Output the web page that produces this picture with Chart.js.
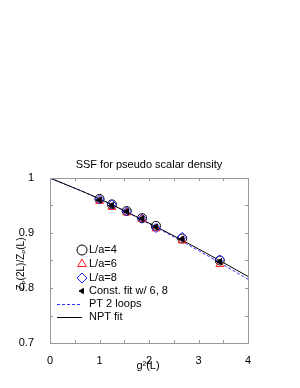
<!DOCTYPE html>
<html>
<head>
<meta charset="utf-8">
<script src="https://cdn.jsdelivr.net/npm/chart.js@4"></script>
<style>
  html, body { margin: 0; padding: 0; background: #fff; }
  canvas { display: block; }
</style>
</head>
<body>
<canvas id="myChart" width="300" height="388"></canvas>
<script>
// data
const g2 = [1.0, 1.25, 1.55, 1.86, 2.14, 2.67, 3.43];
const la4 = [0.962, 0.952, 0.940, 0.927, 0.913, 0.890, 0.850];
const la6 = [0.958, 0.947, 0.937, 0.925, 0.908, 0.886, 0.843];
const la8 = [0.961, 0.952, 0.939, 0.926, 0.909, 0.893, 0.852];
const constFit = [0.960, 0.950, 0.939, 0.926, 0.911, 0.889, 0.848];

const lineX = [0, 1, 2, 3, 4];
const pt2loops = [1.0, 0.962, 0.917, 0.868, 0.816];
const nptFit = [1.0, 0.962, 0.918, 0.871, 0.821];

const xTicks = [0, 1, 2, 3, 4];
const yTicks = [0.7, 0.8, 0.9, 1];

const FONT = 'Liberation Sans, Arial, sans-serif';

function pts(xs, ys) {
  return xs.map((x, i) => ({ x: x, y: ys[i] }));
}

const data = {
  datasets: [
    {
      label: 'PT 2 loops',
      type: 'line',
      data: pts(lineX, pt2loops),
      borderColor: '#3030ff',
      borderWidth: 1,
      borderDash: [3, 2],
      pointRadius: 0,
      tension: 0.4,
      order: 5,
    },
    {
      label: 'NPT fit',
      type: 'line',
      data: pts(lineX, nptFit),
      borderColor: '#000',
      borderWidth: 1,
      pointRadius: 0,
      tension: 0.4,
      order: 4,
    },
    {
      label: 'L/a=4',
      data: pts(g2, la4),
      pointStyle: 'circle',
      pointRadius: 4.5,
      borderColor: '#000',
      backgroundColor: 'rgba(0,0,0,0)',
      borderWidth: 1,
      order: 3,
    },
    {
      label: 'L/a=6',
      data: pts(g2, la6),
      pointStyle: 'triangle',
      pointRadius: 4.5,
      borderColor: '#ff2020',
      backgroundColor: 'rgba(0,0,0,0)',
      borderWidth: 1,
      order: 2,
    },
    {
      label: 'L/a=8',
      data: pts(g2, la8),
      pointStyle: 'rectRot',
      pointRadius: 4.5,
      borderColor: '#2020ff',
      backgroundColor: 'rgba(0,0,0,0)',
      borderWidth: 1,
      order: 1,
    },
    {
      label: 'Const. fit w/ 6, 8',
      data: pts(g2, constFit),
      pointStyle: 'triangle',
      rotation: -90,
      pointRadius: 3.5,
      borderColor: '#000',
      backgroundColor: '#000',
      borderWidth: 1,
      order: 0,
    },
  ],
};

// inward ticks, frame, title, axis titles, legend
const decor = {
  id: 'decor',
  afterDraw(chart) {
    const ctx = chart.ctx;
    const a = chart.chartArea;
    const xs = chart.scales.x;
    const ys = chart.scales.y;
    ctx.save();
    ctx.strokeStyle = '#999';
    ctx.lineWidth = 1;
    ctx.strokeRect(a.left + 0.5, a.top + 0.5, a.right - a.left, a.bottom - a.top);
    ctx.beginPath();
    for (let v = 0; v <= 4.001; v += 0.5) {
      const px = Math.round(xs.getPixelForValue(v)) + 0.5;
      ctx.moveTo(px, a.bottom); ctx.lineTo(px, a.bottom - 3);
      ctx.moveTo(px, a.top); ctx.lineTo(px, a.top + 3);
    }
    for (let v = 0.7; v <= 1.0001; v += 0.05) {
      const py = Math.round(ys.getPixelForValue(v)) + 0.5;
      ctx.moveTo(a.left, py); ctx.lineTo(a.left + 3, py);
      ctx.moveTo(a.right, py); ctx.lineTo(a.right - 3, py);
    }
    ctx.stroke();

    // title
    ctx.fillStyle = '#000';
    ctx.font = '11px ' + FONT;
    ctx.textAlign = 'center';
    ctx.textBaseline = 'middle';
    ctx.fillText('SSF for pseudo scalar density', 149, 165);

    // x title
    ctx.fillText('g\u00b2(L)', 148, 366);

    // y title with subscripts
    ctx.save();
    ctx.translate(21, 264);
    ctx.rotate(-Math.PI / 2);
    const parts = [['Z', 0], ['P', 1], ['(2L)/Z', 0], ['P', 1], ['(L)', 0]];
    let w = 0;
    parts.forEach(p => { ctx.font = (p[1] ? '6px ' : '10px ') + FONT; w += ctx.measureText(p[0]).width; });
    let cx = -w / 2;
    ctx.textAlign = 'left';
    parts.forEach(p => {
      ctx.font = (p[1] ? '6px ' : '10px ') + FONT;
      ctx.fillText(p[0], cx, p[1] ? 3 : 0);
      cx += ctx.measureText(p[0]).width;
    });
    ctx.restore();

    // legend
    const rows = [
      { ds: 2, y: 250 },
      { ds: 3, y: 264 },
      { ds: 4, y: 278 },
      { ds: 5, y: 291 },
      { ds: 0, y: 304 },
      { ds: 1, y: 317 },
    ];
    ctx.font = '11px ' + FONT;
    ctx.textAlign = 'left';
    ctx.textBaseline = 'middle';
    rows.forEach(r => {
      const d = chart.data.datasets[r.ds];
      if (d.type === 'line') {
        ctx.beginPath();
        ctx.strokeStyle = d.borderColor;
        ctx.lineWidth = 1;
        ctx.setLineDash(d.borderDash || []);
        ctx.moveTo(57, r.y + 0.5); ctx.lineTo(82, r.y + 0.5);
        ctx.stroke();
        ctx.setLineDash([]);
      } else {
        ctx.strokeStyle = d.borderColor;
        ctx.fillStyle = d.backgroundColor;
        ctx.lineWidth = 1;
        const big = d.pointRadius >= 4 ? 5 : 3;
        Chart.helpers.drawPoint(ctx, { pointStyle: d.pointStyle, radius: big, rotation: d.rotation || 0, borderWidth: 1 }, 82, r.y);
      }
      ctx.fillStyle = '#000';
      ctx.fillText(d.label, 89, r.y);
    });
    ctx.restore();
  },
};

const config = {
  type: 'scatter',
  data: data,
  options: {
    responsive: false,
    animation: false,
    layout: { padding: { top: 178, right: 52, left: 0, bottom: 0 } },
    plugins: {
      legend: { display: false },
      title: { display: false },
      tooltip: { enabled: false },
    },
    scales: {
      x: {
        type: 'linear',
        min: 0,
        max: 4,
        afterFit: s => { s.height = 45; },
        afterBuildTicks: s => { s.ticks = xTicks.map(v => ({ value: v })); },
        grid: { display: false },
        border: { display: false },
        ticks: { color: '#000', font: { family: FONT, size: 11 }, padding: 3 },
      },
      y: {
        type: 'linear',
        min: 0.7,
        max: 1,
        afterFit: s => { s.width = 50; },
        afterBuildTicks: s => { s.ticks = yTicks.map(v => ({ value: v })); },
        grid: { display: false },
        border: { display: false },
        ticks: {
          color: '#000',
          font: { family: FONT, size: 11 },
          padding: 8,
          callback: v => (v === 1 ? '1' : v.toFixed(1)),
        },
      },
    },
  },
  plugins: [decor],
};

var ctx = document.getElementById('myChart');
var myChart = new Chart(ctx, config);
</script>
</body>
</html>
